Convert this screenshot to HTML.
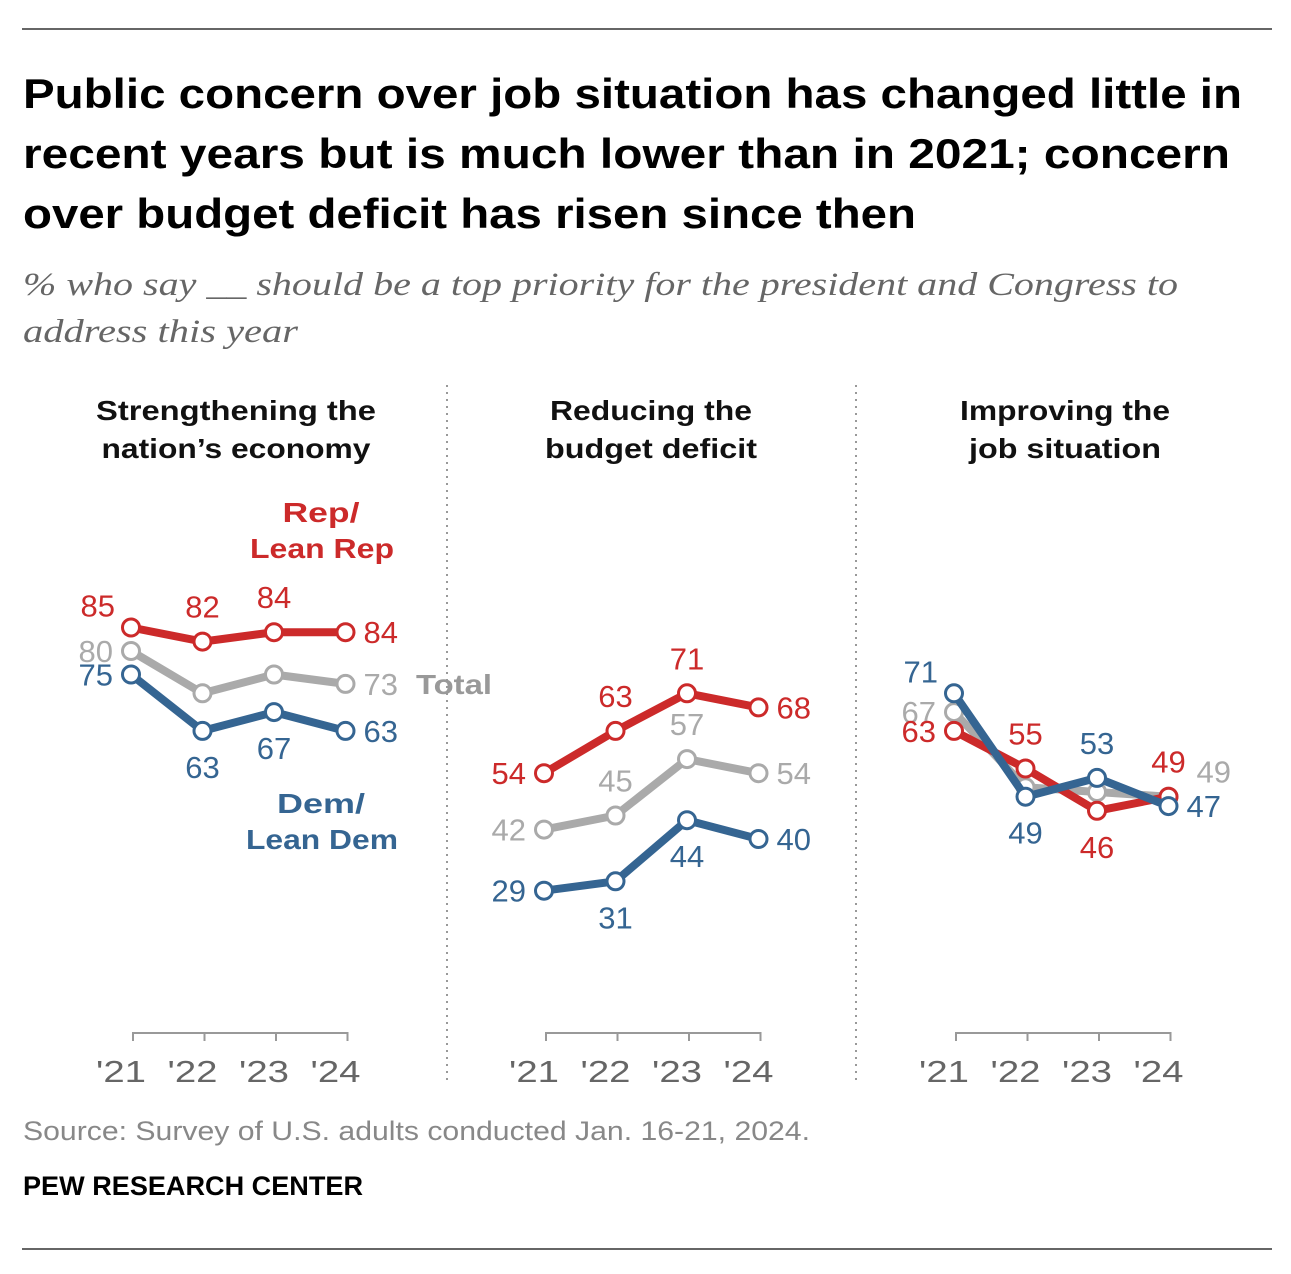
<!DOCTYPE html>
<html><head><meta charset="utf-8"><style>
body{margin:0;background:#fff;width:1291px;height:1274px;overflow:hidden;font-family:"Liberation Sans",sans-serif}
svg{display:block}
</style></head><body>
<svg id="c" width="1291" height="1274">
<line x1="22" y1="29" x2="1272" y2="29" stroke="#333" stroke-width="1.5"/>
<g font-weight="bold" font-size="42" fill="#000" lengthAdjust="spacingAndGlyphs">
<text x="23" y="108" textLength="1219" lengthAdjust="spacingAndGlyphs">Public concern over job situation has changed little in</text>
<text x="23" y="168" textLength="1207" lengthAdjust="spacingAndGlyphs">recent years but is much lower than in 2021; concern</text>
<text x="23" y="228" textLength="893" lengthAdjust="spacingAndGlyphs">over budget deficit has risen since then</text>
</g>
<g font-family="Liberation Serif,serif" font-style="italic" font-size="33" fill="#666">
<text x="23" y="295" textLength="1155" lengthAdjust="spacingAndGlyphs">% who say __ should be a top priority for the president and Congress to</text>
<text x="23" y="342" textLength="275" lengthAdjust="spacingAndGlyphs">address this year</text>
</g>
<line x1="447" y1="385" x2="447" y2="1082" stroke="#999" stroke-width="2" stroke-dasharray="2,5"/>
<line x1="856" y1="385" x2="856" y2="1082" stroke="#999" stroke-width="2" stroke-dasharray="2,5"/>
<text x="23" y="1140" font-size="27" fill="#888" textLength="787" lengthAdjust="spacingAndGlyphs">Source: Survey of U.S. adults conducted Jan. 16-21, 2024.</text>
<text x="23" y="1195" font-size="27" font-weight="bold" fill="#000" textLength="340" lengthAdjust="spacingAndGlyphs">PEW RESEARCH CENTER</text>
<line x1="22" y1="1249" x2="1272" y2="1249" stroke="#333" stroke-width="1.5"/>
</svg>
<script>
const years=["'21","'22","'23","'24"];
const panelTitles=[["Strengthening the","nation’s economy"],["Reducing the","budget deficit"],["Improving the","job situation"]];
const titleWidths=[[280,269],[202,212],[210,192]];
const repVals=[[85,82,84,84],[54,63,71,68],[63,55,46,49]];
const totalVals=[[80,71,75,73],[42,45,57,54],[67,51,50,49]];
const demVals=[[75,63,67,63],[29,31,44,40],[71,49,53,47]];
const repLabelPos=[["UL","A","A","R"],["L","A","A","R"],["L","A","B","A"]];
const totalLabelPos=[["L","","","R"],["L","A","A","R"],["L","","","RU"]];
const demLabelPos=[["L","B","B","R"],["L","B","B","R"],["UL","B","A","R"]];
const panelX0=[131,544,954];
const titleCenters=[236,651,1065];
const svg=document.getElementById('c');
const NS='http://www.w3.org/2000/svg';
function y(v){return 1027-4.7*v;}
function x(p,i){return panelX0[p]+i*71.5;}
function el(t,a,parent){const e=document.createElementNS(NS,t);for(const k in a)e.setAttribute(k,a[k]);(parent||svg).appendChild(e);return e;}
const colors={rep:"#cc2a2a",total:"#aaaaaa",dem:"#356592"};
for(let p=0;p<3;p++){
  const g=el('g',{});
  
  
  const cx=titleCenters[p];
  panelTitles[p].forEach((t,i)=>{const tt=el('text',{x:cx,y:420+i*38,'text-anchor':'middle','font-size':'28','font-weight':'bold',fill:'#111',textLength:titleWidths[p][i],lengthAdjust:'spacingAndGlyphs'},g);tt.textContent=t;
    
    });
  const ax=el('path',{d:`M${x(p,0)+2} 1041V1033H${x(p,3)+2}V1041`+[1,2].map(i=>`M${x(p,i)+2} 1033V1041`).join(''),stroke:'#999','stroke-width':2,fill:'none'},g);
  
  
  years.forEach((yr,i)=>{const t=el('text',{x:x(p,i)-10,y:1082,'text-anchor':'middle','font-size':'31',fill:'#666',textLength:50,lengthAdjust:'spacingAndGlyphs'},g);t.textContent=yr;
    
    });
  const series=[["total",totalVals[p],totalLabelPos[p]],["rep",repVals[p],repLabelPos[p]],["dem",demVals[p],demLabelPos[p]]];
  series.forEach(([name,vals,pos])=>{
    const c=colors[name];
    const ln=el('polyline',{points:vals.map((v,i)=>x(p,i)+','+y(v)).join(' '),fill:'none',stroke:c,'stroke-width':8,'stroke-linejoin':'round'},g);
    
    
    vals.forEach((v,i)=>{
      const ci=el('circle',{cx:x(p,i),cy:y(v),r:8.5,fill:'#fff',stroke:c,'stroke-width':3},g);
      
      
      const ps=pos[i];if(!ps)return;
      let tx=x(p,i),ty=y(v)+11,anc='middle';
      if(ps=='L'){tx-=18;anc='end';}
      else if(ps=='R'){tx+=18;anc='start';}
      else if(ps=='RU'){tx+=28;anc='start';ty-=25;}
      else if(ps=='A'){ty-=35;}
      else if(ps=='B'){ty+=36;}
      else if(ps=='UL'){tx-=16;anc='end';ty-=22;}
      const t=el('text',{x:tx,y:ty,'text-anchor':anc,'font-size':'31',fill:c},g);t.textContent=v;
      
      
    });
  });
}
const legend=[["Rep/",321,522,colors.rep,77],["Lean Rep",322,558,colors.rep,144],["Dem/",321,813,colors.dem,88],["Lean Dem",322,849,colors.dem,152]];
legend.forEach(([t,lx,ly,c,w])=>{const e=el('text',{x:lx,y:ly,'text-anchor':'middle','font-size':'28','font-weight':'bold',fill:c,textLength:w,lengthAdjust:'spacingAndGlyphs'});e.textContent=t;
  
  });
const tl=el('text',{x:416,y:694,'font-size':'28','font-weight':'bold',fill:'#999',textLength:76,lengthAdjust:'spacingAndGlyphs'});tl.textContent='Total';


</script>
</body></html>
